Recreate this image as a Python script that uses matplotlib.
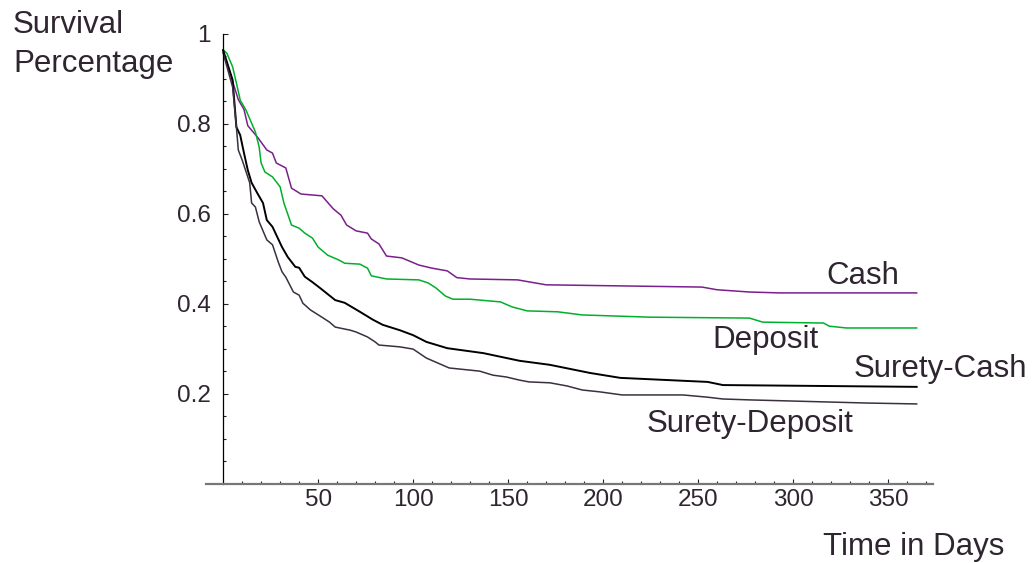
import matplotlib
matplotlib.use("Agg")
import matplotlib.pyplot as plt
from matplotlib.ticker import FixedLocator, FixedFormatter

plt.rcParams["font.family"] = ["Liberation Sans", "DejaVu Sans"]

# survival curves (days, fraction)
cash_days = [0, 8, 11, 13, 18, 23, 26, 28, 33, 36, 41, 52, 58, 62, 65, 70, 76, 78, 82,
             86, 94, 98, 103, 110, 118, 123, 130, 155, 170, 252, 260, 277, 293, 365]
cash_surv = [0.962, 0.854, 0.832, 0.796, 0.771, 0.742, 0.735, 0.713, 0.702, 0.657, 0.644,
             0.640, 0.611, 0.597, 0.575, 0.562, 0.557, 0.544, 0.533, 0.506, 0.502, 0.495,
             0.486, 0.479, 0.473, 0.458, 0.455, 0.453, 0.442, 0.437, 0.431, 0.426, 0.424, 0.424]

dep_days = [0, 2, 5, 7, 9, 12, 17, 19, 20, 22, 26, 30, 32, 36, 40, 43, 47, 50, 55, 61, 64,
            72, 76, 78, 86, 103, 108, 112, 117, 121, 130, 146, 152, 160, 176, 189, 225,
            277, 284, 316, 319, 328, 365]
dep_surv = [0.965, 0.957, 0.927, 0.891, 0.853, 0.831, 0.782, 0.748, 0.713, 0.693, 0.682,
            0.660, 0.624, 0.575, 0.568, 0.557, 0.546, 0.526, 0.508, 0.497, 0.490, 0.488,
            0.479, 0.462, 0.455, 0.453, 0.446, 0.435, 0.417, 0.410, 0.410, 0.404, 0.393,
            0.384, 0.382, 0.375, 0.370, 0.368, 0.359, 0.357, 0.350, 0.346, 0.346]

scash_days = [0, 5, 7, 9, 11, 13, 15, 18, 21, 23, 26, 31, 34, 38, 40, 43, 47, 51, 59, 64,
              72, 79, 84, 93, 100, 107, 118, 137, 156, 172, 193, 209, 255, 263, 365]
scash_surv = [0.964, 0.898, 0.793, 0.775, 0.735, 0.697, 0.669, 0.646, 0.624, 0.586, 0.571,
              0.526, 0.504, 0.482, 0.480, 0.460, 0.448, 0.435, 0.408, 0.402, 0.382, 0.364,
              0.353, 0.341, 0.330, 0.315, 0.301, 0.290, 0.273, 0.264, 0.246, 0.235, 0.226,
              0.219, 0.215]

sdep_days = [0, 5, 7, 8, 10, 14, 15, 17, 19, 23, 26, 29, 31, 33, 37, 40, 42, 46, 52, 56,
             59, 67, 70, 76, 80, 82, 93, 100, 107, 119, 135, 142, 149, 156, 161, 172, 181,
             189, 198, 210, 242, 255, 263, 277, 339, 365]
sdep_surv = [0.958, 0.882, 0.793, 0.742, 0.720, 0.669, 0.624, 0.615, 0.582, 0.542, 0.531,
             0.493, 0.471, 0.459, 0.426, 0.419, 0.401, 0.386, 0.370, 0.359, 0.348, 0.341,
             0.337, 0.326, 0.315, 0.308, 0.304, 0.299, 0.279, 0.257, 0.250, 0.241, 0.237,
             0.230, 0.226, 0.224, 0.217, 0.208, 0.204, 0.197, 0.197, 0.192, 0.188, 0.186,
             0.179, 0.177]

x_major = [50, 100, 150, 200, 250, 300, 350]
y_major = [0.2, 0.4, 0.6, 0.8, 1.0]
y_labels = ["0.2", "0.4", "0.6", "0.8", "1"]

txt = "#2f2530"

fig = plt.figure(figsize=(10.33, 5.63), dpi=100)
ax = fig.add_axes([206 / 1033, 1 - 483.5 / 563, 727 / 1033, 449.5 / 563])

ax.plot(cash_days, cash_surv, color="#7a1f8c", lw=1.1)
ax.plot(dep_days, dep_surv, color="#00b02c", lw=1.1)
ax.plot(scash_days, scash_surv, color="#000000", lw=1.4)
ax.plot(sdep_days, sdep_surv, color="#3b3040", lw=1.1)

ax.set_xlim(-9, 373.6)
ax.set_ylim(0, 1.0)

ax.spines["top"].set_visible(False)
ax.spines["right"].set_visible(False)
ax.spines["left"].set_position(("data", 0))
ax.spines["left"].set_bounds(0, 1)
ax.spines["left"].set_color("#000000")
ax.spines["left"].set_linewidth(0.9)
ax.spines["bottom"].set_color("#777777")
ax.spines["bottom"].set_linewidth(1.6)

ax.xaxis.set_major_locator(FixedLocator(x_major))
ax.xaxis.set_minor_locator(FixedLocator([d for d in range(10, 371, 10) if d % 50]))
ax.yaxis.set_major_locator(FixedLocator(y_major))
ax.yaxis.set_major_formatter(FixedFormatter(y_labels))
ax.yaxis.set_minor_locator(FixedLocator([i * 0.05 for i in range(1, 20) if i % 4]))

ax.tick_params(axis="both", which="both", direction="in", colors="#222222", width=0.8,
               labelcolor=txt, labelsize=17.5)
ax.tick_params(axis="both", which="major", length=3.4)
ax.tick_params(axis="both", which="minor", length=2.0)
ax.tick_params(axis="x", pad=4)
ax.tick_params(axis="y", pad=9)

lab = dict(fontsize=22.5, color=txt)
fig.text(13 / 1033, 1 - 33 / 563, "Survival", ha="left", va="baseline", **lab)
fig.text(13 / 1033, 1 - 72 / 563, "Percentage", ha="left", va="baseline", **lab)
fig.text(823 / 1033, 1 - 555 / 563, "Time in Days", ha="left", va="baseline", **lab)

ax.text(336.6, 0.444, "Cash", ha="center", va="baseline", clip_on=False, **lab)
ax.text(285.5, 0.301, "Deposit", ha="center", va="baseline", clip_on=False, **lab)
ax.text(377.6, 0.237, "Surety-Cash", ha="center", va="baseline", clip_on=False, **lab)
ax.text(277.1, 0.115, "Surety-Deposit", ha="center", va="baseline", clip_on=False, **lab)

fig.savefig("out.png", dpi=100)
